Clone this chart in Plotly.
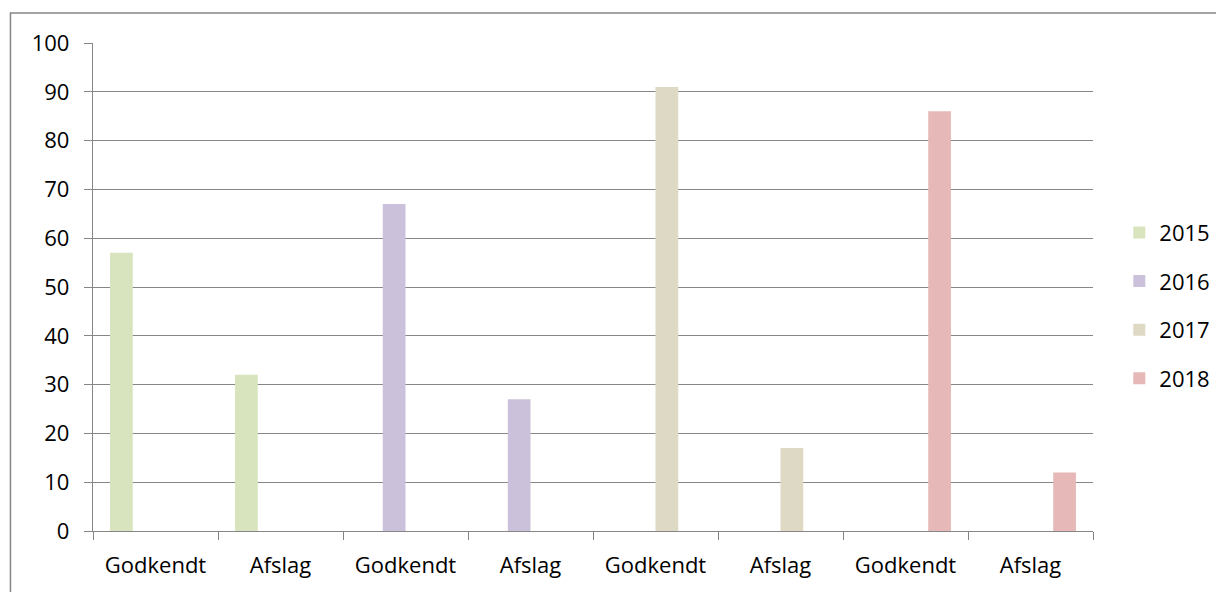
import plotly.graph_objects as go

categories = ["Godkendt", "Afslag", "Godkendt", "Afslag", "Godkendt", "Afslag", "Godkendt", "Afslag"]
category_keys = ["g15", "a15", "g16", "a16", "g17", "a17", "g18", "a18"]
series_names = ["2015", "2016", "2017", "2018"]
series_keys = [["g15", "a15"], ["g16", "a16"], ["g17", "a17"], ["g18", "a18"]]
values_2015 = [57, 32]
values_2016 = [67, 27]
values_2017 = [91, 17]
values_2018 = [86, 12]
series_values = [values_2015, values_2016, values_2017, values_2018]
colors = ["#D7E4BD", "#CCC1DA", "#DDD9C4", "#E6B9B8"]

FONT = "Open Sans"
GRID = "#868686"

# Excel-style clustered layout: 4 slots per category, gap width 150%
n_series = len(series_names)
bar_w = 1.0 / (n_series + 1.5)
start = -0.5 + 0.75 * bar_w

fig = go.Figure()
for i, (name, keys, vals, col) in enumerate(zip(series_names, series_keys, series_values, colors)):
    fig.add_trace(go.Bar(
        x=keys, y=vals, name=name, marker=dict(color=col, line=dict(width=0)),
        width=bar_w, offset=start + i * bar_w, legendgroup=name,
    ))

W, H = 1224, 592
OFF = 8  # page body margin
L = 93 - OFF
T = 42.5 - OFF
R = W - (1092.7 - OFF)
B = H - (531.5 - OFF)
pw = W - L - R
ph = H - T - B

fig.update_layout(
    width=W, height=H,
    margin=dict(l=L, r=R, t=T, b=B, autoexpand=False),
    paper_bgcolor="white", plot_bgcolor="white",
    barmode="overlay",
    font=dict(family=FONT, size=22, color="#000000"),
    xaxis=dict(
        type="category", categoryorder="array", categoryarray=category_keys,
        tickmode="array", tickvals=category_keys, ticktext=categories,
        tickson="boundaries", ticks="outside", ticklen=8, tickcolor=GRID, tickwidth=1.3,
        showline=True, linecolor=GRID, linewidth=1.3, showgrid=False,
        ticklabelstandoff=14, range=[-0.5, 7.5],
    ),
    yaxis=dict(
        range=[0, 100], tickmode="linear", dtick=10, tick0=0,
        ticks="outside", ticklen=8, tickcolor=GRID, tickwidth=1.3,
        showline=True, linecolor=GRID, linewidth=1.3,
        showgrid=True, gridcolor=GRID, gridwidth=1.3, zeroline=False,
        ticklabelstandoff=10,
    ),
    legend=dict(
        x=(1111 - L) / pw, y=(H - B - 203.5) / ph, xanchor="left", yanchor="top",
        tracegroupgap=17, font=dict(family=FONT, size=22),
        bgcolor="rgba(0,0,0,0)",
    ),
    showlegend=True,
    shapes=[dict(
        type="rect", xref="paper", yref="paper",
        x0=(10.5 - OFF - L) / pw, x1=(W + 20 - L) / pw,
        y0=-(B + 20) / ph, y1=(H - B - (12.5 - OFF)) / ph,
        line=dict(color=GRID, width=1.5), fillcolor="rgba(0,0,0,0)", layer="below",
    )],
)

fig.write_html("out.html")
